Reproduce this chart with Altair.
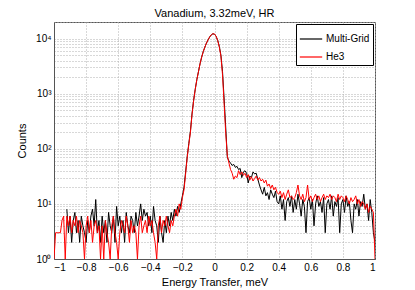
import altair as alt
import numpy as np
import pandas as pd

# energy grid (bins of 0.01 meV)
energy = [round(v, 2) for v in (np.arange(-100, 101) / 100.0)]

he3 = [
    1, 3, 3, 3, 3, 5, 6, 1, 6, 4,
    6, 3, 5, 4, 6, 3, 5, 4, 3, 1,
    4, 6, 3, 5, 2, 4, 5, 3, 4, 1,
    4, 1, 5, 3, 2, 1, 4, 6, 3, 2,
    1, 3, 5, 4, 3, 6, 4, 2, 5, 3,
    4, 3, 1, 4, 6, 3, 4, 5, 3, 6,
    4, 5, 3, 2, 1, 4, 6, 3, 5, 4,
    6, 4, 3, 5, 4, 6, 8, 6, 10, 8,
    13, 18, 35, 70, 120, 200, 420, 750, 1200, 1800,
    2500, 3500, 4600, 5800, 7000, 8300, 9500, 10700, 11700, 12300,
    12100, 11000, 9200, 7000, 4800, 2200, 650, 190, 75, 55,
    42, 36, 28, 32, 30, 40, 34, 38, 33, 36,
    30, 34, 27, 31, 26, 29, 32, 27, 30, 26,
    28, 24, 27, 21, 23, 19, 22, 18, 20, 16,
    15, 17, 13, 16, 12, 15, 18, 13, 14, 12,
    13, 16, 22, 14, 12, 15, 11, 13, 22, 12,
    14, 11, 13, 15, 12, 14, 11, 13, 15, 12,
    14, 13, 15, 12, 14, 13, 11, 15, 12, 14,
    13, 11, 14, 12, 10, 13, 11, 12, 14, 10,
    12, 9, 11, 10, 8, 10, 7, 9, 8, 7,
    1,
]

multigrid = [
    None, None, None, None, None, None, None, None, 8, 3,
    6, 2, 5, 7, 3, 5, 2, 6, 4, 3,
    2, 5, 3, 6, 8, 4, 12, 3, 5, 2,
    6, 3, 5, 2, 7, 4, 3, 6, 2, 9,
    4, 6, 3, 5, 2, 7, 4, 3, 6, 5,
    3, 7, 4, 6, 10, 5, 8, 6, 7, 4,
    6, 3, 9, 5, 4, 2, 6, 3, 2, 5,
    3, 6, 4, 7, 5, 8, 6, 9, 7, 10,
    14, 20, 38, 72, 125, 210, 430, 760, 1200, 1800,
    2500, 3500, 4600, 5800, 7000, 8300, 9500, 10700, 11700, 12200,
    12000, 11000, 9300, 7200, 5000, 2500, 800, 240, 70, 60,
    55, 50, 52, 46, 48, 42, 44, 30, 38, 40,
    36, 24, 32, 30, 38, 35, 36, 28, 22, 18,
    15, 20, 14, 16, 12, 18, 15, 13, 17, 11,
    10, 14, 8, 12, 5, 11, 13, 9, 14, 7,
    12, 8, 15, 10, 6, 12, 9, 3, 11, 13,
    8, 12, 4, 10, 14, 9, 11, 7, 13, 3,
    10, 12, 8, 14, 6, 11, 9, 13, 3, 10,
    12, 7, 14, 9, 11, 5, 3, 10, 8, 12,
    6, 11, 9, 15, 8, 10, 5, 12, 7, 3,
    2,
]

series_names = ["Multi-Grid", "He3"]
series_colors = ["#000000", "#ff0000"]

x_ticks = [-1, -0.8, -0.6, -0.4, -0.2, 0, 0.2, 0.4, 0.6, 0.8, 1]
y_ticks = [m * 10 ** k for k in range(0, 5) for m in range(1, 10) if m * 10 ** k <= 20000]

df_mg = pd.DataFrame({"E": energy, "C": multigrid, "S": series_names[0]}).dropna()
df_he = pd.DataFrame({"E": energy, "C": he3, "S": series_names[1]})

font = "Liberation Sans"

color = alt.Color(
    "S:N",
    scale=alt.Scale(domain=series_names, range=series_colors),
    legend=alt.Legend(
        title=None,
        orient="top-right",
        offset=2,
        fillColor="white",
        strokeColor="#000000",
        padding=3,
        symbolType="stroke",
        symbolStrokeWidth=1.2,
        symbolSize=500,
        labelFontSize=10,
        labelFont=font,
        labelColor="#000000",
        rowPadding=1,
        labelOffset=3,
    ),
)

x_enc = alt.X(
    "E:Q",
    scale=alt.Scale(domain=[-1, 1], nice=False),
    axis=alt.Axis(
        values=x_ticks,
        format="~g",
        title="Energy Transfer, meV",
        grid=True,
    ),
)

y_enc = alt.Y(
    "C:Q",
    scale=alt.Scale(type="log", domain=[1, 20000], nice=False),
    axis=alt.Axis(
        values=y_ticks,
        labelExpr="datum.value == 1 ? '10⁰' : datum.value == 10 ? '10¹' : datum.value == 100 ? '10²' : datum.value == 1000 ? '10³' : datum.value == 10000 ? '10⁴' : ''",
        title="Counts",
        grid=True,
    ),
)

mg = alt.Chart(df_mg).mark_line(strokeWidth=1, clip=True).encode(x=x_enc, y=y_enc, color=color)
he = alt.Chart(df_he).mark_line(strokeWidth=1, clip=True).encode(x=x_enc, y=y_enc, color=color)

chart = (
    alt.layer(mg, he)
    .properties(
        width=321,
        height=237,
        title=alt.Title("Vanadium, 3.32meV, HR", fontSize=11, fontWeight="normal", font=font,
                        color="#000000", offset=0, dy=-3),
        autosize=alt.AutoSizeParams(type="none"),
        padding={"left": 46, "top": 14, "right": 30, "bottom": 32},
    )
    .configure_view(stroke="#555555", strokeWidth=1)
    .configure_axis(
        labelFont=font,
        titleFont=font,
        labelFontSize=10,
        titleFontSize=11,
        titleFontWeight="normal",
        labelColor="#000000",
        titleColor="#000000",
        domainColor="#555555",
        ticks=False,
        gridColor="#b0b0b0",
        gridDash=[1, 2],
        gridWidth=1,
    )
    .configure_axisX(titlePadding=4, labelPadding=3)
    .configure_axisY(titlePadding=8, labelPadding=3)
)

chart.save("out.html", embed_options={"renderer": "svg", "actions": False})
